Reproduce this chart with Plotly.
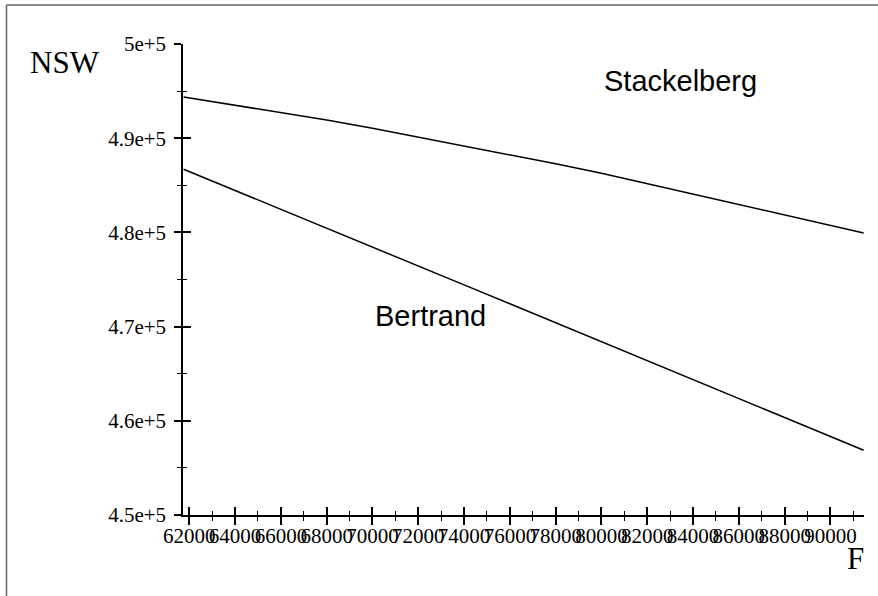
import plotly.graph_objects as go

# ---- data ----
F_values = [61750, 64000, 66000, 68000, 70000, 72000, 74000, 76000, 78000,
            80000, 82000, 84000, 86000, 88000, 90000, 91450]
stackelberg_nsw = [494370, 493520, 492760, 491940, 491050, 490130, 489190, 488260,
                   487290, 486270, 485170, 484080, 482980, 481860, 480720, 479940]
bertrand_nsw = [486700, 484460, 482460, 480460, 478450, 476440, 474430, 472420,
                470410, 468390, 466380, 464360, 462340, 460320, 458300, 456880]

x_tickvals = list(range(62000, 90001, 2000))
x_ticktext = [str(v) for v in x_tickvals]
y_tickvals = [450000, 460000, 470000, 480000, 490000, 500000]
y_ticktext = ["4.5e+5", "4.6e+5", "4.7e+5", "4.8e+5", "4.9e+5", "5e+5"]

X_RANGE = [61725, 91465]
Y_RANGE = [450000, 500000]

W, H = 878, 596
L, R, T, B = 183, 14, 44, 81
pw, ph = W - L - R, H - T - B


def px_x(p):
    return (p - L) / pw


def px_y(p):
    return (H - B - p) / ph


serif = "Liberation Serif, Times New Roman, serif"
sans = "Liberation Sans, Arial, sans-serif"

fig = go.Figure()
fig.add_trace(go.Scatter(x=F_values, y=stackelberg_nsw, mode="lines",
                         line=dict(color="black", width=1.5), showlegend=False,
                         hoverinfo="skip"))
fig.add_trace(go.Scatter(x=F_values, y=bertrand_nsw, mode="lines",
                         line=dict(color="black", width=1.5), showlegend=False,
                         hoverinfo="skip"))
# empty trace to anchor the overlay axes (inner half of crossing ticks)
fig.add_trace(go.Scatter(x=[], y=[], xaxis="x2", yaxis="y2", showlegend=False,
                         hoverinfo="skip"))

common_x = dict(range=X_RANGE, tickvals=x_tickvals, showgrid=False, zeroline=False,
                automargin=False)
common_y = dict(range=Y_RANGE, tickvals=y_tickvals, showgrid=False, zeroline=False,
                automargin=False)

fig.update_layout(
    width=W, height=H, autosize=False,
    margin=dict(l=L, r=R, t=T, b=B, pad=0),
    paper_bgcolor="white", plot_bgcolor="white",
    xaxis=dict(**common_x, ticktext=x_ticktext, ticks="outside", ticklen=8,
               tickwidth=1.5, tickcolor="black", showline=True, linecolor="black",
               linewidth=1.5, tickangle=0,
               tickfont=dict(family=serif, size=21, color="black"),
               minor=dict(dtick=1000, ticks="outside", ticklen=4, tickwidth=1.2,
                          tickcolor="black", showgrid=False),
               ticklabelstandoff=-7),
    yaxis=dict(**common_y, ticktext=y_ticktext, ticks="outside", ticklen=7,
               tickwidth=1.5, tickcolor="black", showline=True, linecolor="black",
               linewidth=1.5, tickfont=dict(family=serif, size=21, color="black"),
               minor=dict(dtick=5000, ticks="outside", ticklen=4, tickwidth=1.2,
                          tickcolor="black", showgrid=False),
               ticklabelstandoff=4),
    xaxis2=dict(**common_x, overlaying="x", anchor="y2", showticklabels=False,
                ticks="inside", ticklen=8, tickwidth=1.5, tickcolor="black",
                showline=False,
                minor=dict(dtick=1000, ticks="inside", ticklen=4, tickwidth=1.2,
                           tickcolor="black", showgrid=False)),
    yaxis2=dict(**common_y, overlaying="y", anchor="x2", showticklabels=False,
                ticks="inside", ticklen=8, tickwidth=1.5, tickcolor="black",
                showline=False,
                minor=dict(dtick=5000, ticks="inside", ticklen=4, tickwidth=1.2,
                           tickcolor="black", showgrid=False)),
)

annotations = [
    dict(text="NSW", x=px_x(65), y=px_y(62), font=dict(family=serif, size=31)),
    dict(text="F", x=px_x(855), y=px_y(558), font=dict(family=serif, size=31)),
    dict(text="Stackelberg", x=px_x(680), y=px_y(81), font=dict(family=sans, size=29)),
    dict(text="Bertrand", x=px_x(430), y=px_y(316), font=dict(family=sans, size=29)),
]
for a in annotations:
    a.update(xref="paper", yref="paper", showarrow=False, xanchor="center",
             yanchor="middle")
    a["font"]["color"] = "black"
fig.update_layout(annotations=annotations)

# frame lines of the original picture border
fig.add_shape(type="line", xref="paper", yref="paper",
              x0=px_x(6.5), x1=px_x(6.5), y0=px_y(5), y1=px_y(600),
              line=dict(color="#666666", width=1.5))
fig.add_shape(type="line", xref="paper", yref="paper",
              x0=px_x(6.5), x1=px_x(880), y0=px_y(5), y1=px_y(5),
              line=dict(color="#666666", width=1.5))

fig.write_html("out.html",
               config={"displayModeBar": False},
               post_script="document.body.style.margin='0';"
                           "document.body.style.overflow='hidden';")
